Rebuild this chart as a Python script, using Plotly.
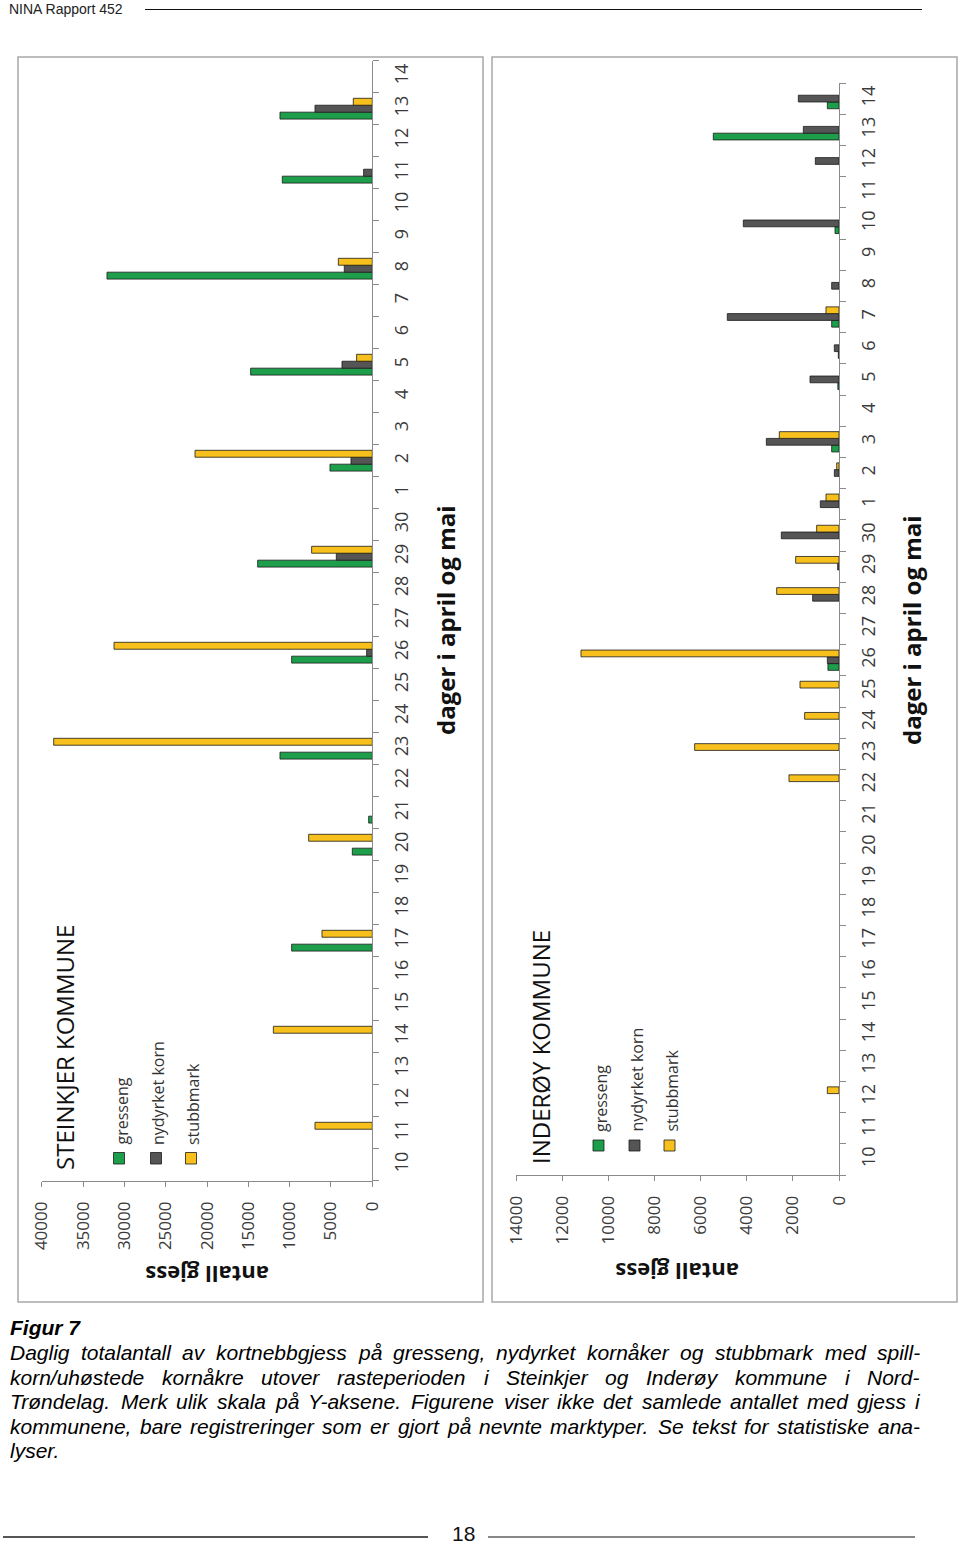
import plotly.graph_objects as go

# ---------------- data ----------------
day_labels = ["10", "11", "12", "13", "14", "15", "16", "17", "18", "19", "20",
              "21", "22", "23", "24", "25", "26", "27", "28", "29", "30",
              "1", "2", "3", "4", "5", "6", "7", "8", "9", "10", "11", "12", "13", "14"]
series_names = ["gresseng", "nydyrket korn", "stubbmark"]

steinkjer_gresseng = [0, 0, 0, 0, 0, 0, 0, 9760, 0, 0, 2420, 440, 0, 11170, 0, 0, 9760, 0, 0, 13870,
                      0, 0, 5120, 0, 0, 14720, 0, 0, 32100, 0, 0, 10890, 0, 11170, 0]
steinkjer_nydyrket = [0, 0, 0, 0, 0, 0, 0, 0, 0, 0, 0, 0, 0, 0, 0, 0, 685, 0, 0, 4355,
                      0, 0, 2580, 0, 0, 3670, 0, 0, 3390, 0, 0, 1050, 0, 6935, 0]
steinkjer_stubbmark = [0, 6935, 0, 0, 11970, 0, 0, 6090, 0, 0, 7700, 0, 0, 38550, 0, 0, 31250, 0, 0, 7340,
                       0, 0, 21450, 0, 0, 1895, 0, 0, 4110, 0, 0, 0, 0, 2300, 0]

inderoy_gresseng = [0, 0, 0, 0, 0, 0, 0, 0, 0, 0, 0, 0, 0, 0, 0, 0, 480, 0, 0, 0,
                    0, 0, 0, 318, 0, 50, 30, 318, 0, 0, 173, 0, 0, 5448, 506]
inderoy_nydyrket = [0, 0, 0, 0, 0, 0, 0, 0, 0, 0, 0, 0, 0, 0, 0, 0, 506, 0, 1142, 58,
                    2500, 809, 202, 3150, 0, 1257, 202, 4841, 318, 0, 4147, 0, 1026, 1546, 1763]
inderoy_stubbmark = [0, 0, 506, 0, 0, 0, 0, 0, 0, 0, 0, 0, 2168, 6257, 1488, 1691, 11184, 0, 2702, 1879,
                     968, 564, 100, 2587, 0, 0, 0, 564, 0, 0, 0, 0, 0, 0, 0]

steinkjer_ticks = [0, 5000, 10000, 15000, 20000, 25000, 30000, 35000, 40000]
inderoy_ticks = [0, 2000, 4000, 6000, 8000, 10000, 12000, 14000]

caption_title = "Figur 7"
caption_lines = [
    "Daglig totalantall av kortnebbgjess på gresseng, nydyrket kornåker og stubbmark med spill-",
    "korn/uhøstede kornåkre utover rasteperioden i Steinkjer og Inderøy kommune i Nord-",
    "Trøndelag. Merk ulik skala på Y-aksene. Figurene viser ikke det samlede antallet med gjess i",
    "kommunene, bare registreringer som er gjort på nevnte marktyper. Se tekst for statistiske ana-",
    "lyser.",
]

# ---------------- helpers ----------------
W, H = 960, 1545
def X(px):
    return px / W
def Y(py):
    return 1 - py / H

colors = ["#1c9e4b", "#555555", "#f8c01c"]
axis_col = "#8a8a8a"
chart_font = "Open Sans, sans-serif"
doc_font = "Liberation Sans, Arial, sans-serif"
tick_col = "#3a3a3a"

idx = list(range(len(day_labels)))

def nz(vals):
    return [v if v else None for v in vals]

fig = go.Figure()
panels = [
    ("x", "y", [steinkjer_gresseng, steinkjer_nydyrket, steinkjer_stubbmark]),
    ("x2", "y2", [inderoy_gresseng, inderoy_nydyrket, inderoy_stubbmark]),
]
for xa, ya, data in panels:
    for name, vals, col in zip(series_names, data, colors):
        fig.add_trace(go.Bar(
            x=nz(vals), y=idx, orientation="h", name=name,
            marker=dict(color=col, line=dict(color="#1a1a1a", width=0.8)),
            xaxis=xa, yaxis=ya, showlegend=False, hoverinfo="skip",
        ))

def value_axis(domain, rng, ticks, anchor):
    return dict(
        domain=domain, range=rng, anchor=anchor, side="bottom", automargin=False,
        tickmode="array", tickvals=ticks, ticktext=[str(t) for t in ticks],
        tickangle=-90, tickfont=dict(family=chart_font, size=17, color=tick_col),
        showline=True, linecolor=axis_col, linewidth=1,
        ticks="outside", ticklen=5, tickcolor=axis_col,
        showgrid=False, zeroline=False, ticklabelstandoff=8,
    )

def cat_axis(domain, anchor):
    return dict(
        domain=domain, range=[-0.5, len(day_labels) - 0.5], anchor=anchor, side="right", automargin=False,
        tickmode="array", tickvals=idx, ticktext=day_labels,
        tickangle=-90, tickfont=dict(family=chart_font, size=18, color=tick_col),
        showline=True, linecolor=axis_col, linewidth=1,
        ticks="", showgrid=False, zeroline=False, ticklabelstandoff=13,
        minor=dict(tick0=-0.5, dtick=1, ticks="outside", ticklen=6, tickcolor=axis_col, showgrid=False),
    )

fig.update_layout(
    template="none",
    width=W, height=H, autosize=False,
    margin=dict(l=0, r=0, t=0, b=0, pad=0, autoexpand=False),
    paper_bgcolor="white", plot_bgcolor="white",
    barmode="group", bargap=0.35, bargroupgap=0,
    xaxis=value_axis([X(41.7), X(372.3)], [40000, 0], steinkjer_ticks, "y"),
    yaxis=cat_axis([Y(1180.7), Y(60.7)], "x"),
    xaxis2=value_axis([X(516), X(839)], [14000, 0], inderoy_ticks, "y2"),
    yaxis2=cat_axis([Y(1175), Y(83)], "x2"),
)

shapes = []
annotations = []

def ann(text, px, py, size, family=chart_font, angle=0, xanchor="center", yanchor="middle", color="#111"):
    annotations.append(dict(
        text=text, x=X(px), y=Y(py), xref="paper", yref="paper", showarrow=False,
        textangle=angle, xanchor=xanchor, yanchor=yanchor,
        font=dict(family=family, size=size, color=color),
    ))

# panel frames
for x0, x1 in [(18, 483), (492, 957)]:
    shapes.append(dict(type="rect", xref="paper", yref="paper",
                       x0=X(x0), x1=X(x1), y0=Y(1302), y1=Y(57),
                       line=dict(color="#a8a8a8", width=1.5), fillcolor="rgba(0,0,0,0)"))

# chart titles, axis titles
ann("STEINKJER KOMMUNE", 64, 1048, 24, angle=-90)
ann("INDERØY KOMMUNE", 540, 1047, 24, angle=-90)
ann("<b>dager i april og mai</b>", 445, 620, 24, angle=-90)
ann("<b>dager i april og mai</b>", 911, 630, 24, angle=-90)
ann("<b>antall gjess</b>", 207, 1275, 22, angle=180)
ann("<b>antall gjess</b>", 677, 1272, 22, angle=180)

# legends (drawn rotated like the reference)
legend_sets = [
    ([119, 156, 191], 1152.5, 1164, 1147),
    ([598.5, 634.5, 669.5], 1140, 1151, 1134),
]
for xs, sy0, sy1, text_bottom in legend_sets:
    for cx, name, col in zip(xs, series_names, colors):
        shapes.append(dict(type="rect", xref="paper", yref="paper",
                           x0=X(cx - 5.5), x1=X(cx + 5.5), y0=Y(sy1), y1=Y(sy0),
                           fillcolor=col, line=dict(color="#1a1a1a", width=0.8)))
        ann(name, cx + 2, text_bottom, 16, angle=-90, yanchor="bottom", color="#333")

# header
ann("NINA Rapport 452", 7, 9.5, 14, family=doc_font, xanchor="left", color="#222")
shapes.append(dict(type="line", xref="paper", yref="paper", x0=X(145), x1=X(922), y0=Y(9.5), y1=Y(9.5),
                   line=dict(color="#111", width=1)))

# caption (justified word placement using Arial/Helvetica advance widths)
AW = {' ': 278, ',': 278, '.': 278, '-': 333, '/': 278}
for c, w in zip("ABCDEFGHIJKLMNOPQRSTUVWXYZ",
                [667, 667, 722, 722, 667, 611, 778, 722, 278, 500, 667, 556, 833, 722, 778, 667, 778, 722,
                 667, 611, 722, 667, 944, 667, 667, 611]):
    AW[c] = w
for c, w in zip("abcdefghijklmnopqrstuvwxyz",
                [556, 556, 500, 556, 556, 278, 556, 556, 222, 222, 500, 222, 833, 556, 556, 556, 556, 333,
                 500, 278, 556, 500, 722, 500, 500, 500]):
    AW[c] = w
AW.update({'å': 556, 'ø': 611, 'æ': 889, 'Ø': 778, 'Å': 667})
for d in "0123456789":
    AW[d] = 556

cap_size = 21
left_px, right_px = 8, 918
ann("<b><i>Figur 7</i></b>", left_px, 1327, cap_size, family=doc_font, xanchor="left", color="#000")
line_y = [1352, 1377, 1401, 1426, 1450]
for k, (line, py) in enumerate(zip(caption_lines, line_y)):
    words = line.split(" ")
    widths = [sum(AW.get(c, 556) for c in w) * cap_size / 1000 for w in words]
    if k < len(caption_lines) - 1 and len(words) > 1:
        gap = (right_px - left_px - sum(widths)) / (len(words) - 1)
    else:
        gap = AW[' '] * cap_size / 1000
    xpos = left_px
    for w, wd in zip(words, widths):
        ann("<i>" + w + "</i>", xpos, py, cap_size, family=doc_font, xanchor="left", color="#000")
        xpos += wd + gap

# footer
ann("18", 463, 1533, 21, family=doc_font, color="#111")
shapes.append(dict(type="line", xref="paper", yref="paper", x0=X(3), x1=X(428), y0=Y(1537), y1=Y(1537),
                   line=dict(color="#555", width=2)))
shapes.append(dict(type="line", xref="paper", yref="paper", x0=X(488), x1=X(915), y0=Y(1537), y1=Y(1537),
                   line=dict(color="#111", width=1)))

fig.update_layout(shapes=shapes, annotations=annotations)
fig.write_html("out.html", config={"displayModeBar": False},
               post_script="document.body.style.margin='0px';document.body.style.overflow='hidden';")
